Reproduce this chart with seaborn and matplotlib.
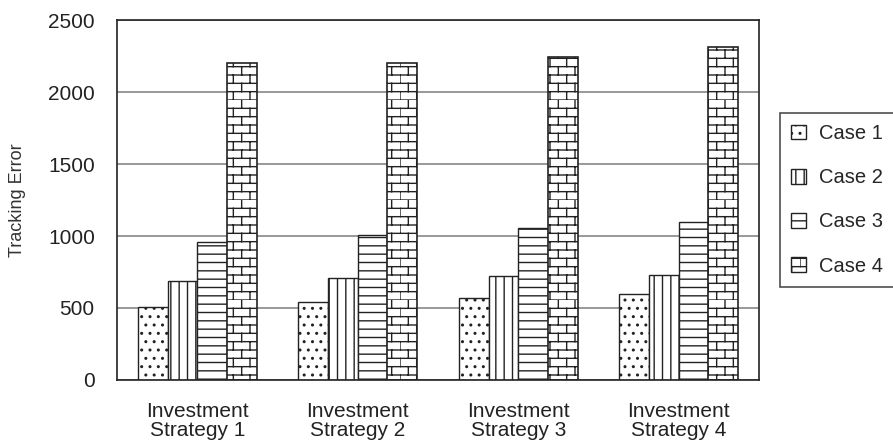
import warnings
import numpy as np
import pandas as pd
import seaborn as sns
import matplotlib.pyplot as plt
from matplotlib import hatch as mhatch
from matplotlib.path import Path
from matplotlib.patches import Patch

warnings.filterwarnings('ignore')

strategies = ['Investment\nStrategy 1', 'Investment\nStrategy 2',
              'Investment\nStrategy 3', 'Investment\nStrategy 4']
cases = ['Case 1', 'Case 2', 'Case 3', 'Case 4']
case1 = [505, 545, 570, 600]
case2 = [690, 705, 720, 730]
case3 = [955, 1010, 1055, 1095]
case4 = [2200, 2200, 2245, 2310]
hatches = ['..', '||', '--', 'b']


class BrickHatch(mhatch.HatchPatternBase):
    # brick wall: horizontal courses with staggered joints
    def __init__(self, hatch, density):
        n = hatch.count('b')
        self.rows = 2 * n * density
        self.cols = n * density
        if n == 0:
            self.num_vertices = 0
        else:
            self.num_vertices = 2 * (self.rows + self.rows * self.cols)

    def set_vertices_and_codes(self, vertices, codes):
        r, c = self.rows, self.cols
        ys = np.arange(r) / r
        vertices[0:2 * r:2, 0] = 0.0
        vertices[0:2 * r:2, 1] = ys
        vertices[1:2 * r:2, 0] = 1.0
        vertices[1:2 * r:2, 1] = ys
        i = 2 * r
        for k in range(r):
            off = 0.5 / c if k % 2 else 0.0
            for j in range(c):
                x = j / c + off
                vertices[i] = (x, k / r)
                vertices[i + 1] = (x, (k + 1) / r)
                i += 2
        codes[0::2] = Path.MOVETO
        codes[1::2] = Path.LINETO


mhatch._hatch_types.append(BrickHatch)

df = pd.DataFrame({
    'strategy': strategies * 4,
    'case': np.repeat(cases, 4),
    'value': case1 + case2 + case3 + case4,
})

sns.set_style('white')
plt.rcParams['font.family'] = ['Liberation Sans', 'DejaVu Sans']
plt.rcParams['hatch.linewidth'] = 1.0

fig = plt.figure(figsize=(8.93, 4.47), dpi=100)
ax = fig.add_axes([0.131, 0.15, 0.719, 0.805])

sns.barplot(data=df, x='strategy', y='value', hue='case', ax=ax,
            width=0.74, gap=0, legend=False, color='white')

for cont, h in zip(ax.containers, hatches):
    for bar in cont:
        bar.set_facecolor('white')
        bar.set_edgecolor('#222222')
        bar.set_linewidth(1.2 if h == 'b' else 1.0)
        bar.set_hatch(h)

ax.set_ylim(0, 2500)
ax.set_yticks(np.arange(0, 2501, 500))
ax.yaxis.grid(True, color='#888888', linewidth=1.2)
ax.set_axisbelow(True)
for s in ax.spines.values():
    s.set_color('#222222')
    s.set_linewidth(1.2)

ax.set_xlabel('')
ax.set_ylabel('Tracking Error', fontsize=13, color='#333333', labelpad=16)
ax.tick_params(axis='both', labelsize=15, colors='#222222', length=0, pad=16)
for lbl in ax.get_xticklabels():
    lbl.set_linespacing(1.0)

handles = [Patch(facecolor='white', edgecolor='#222222', hatch=h, label=c)
           for h, c in zip(hatches, cases)]
leg = ax.legend(handles=handles, loc='upper left',
                bbox_to_anchor=(780 / 893, 1 - 113 / 447),
                bbox_transform=fig.transFigure,
                fontsize=14.5, frameon=True, fancybox=False, labelspacing=1.25,
                handlelength=0.75, handleheight=0.75, handletextpad=0.65,
                borderpad=0.55, borderaxespad=0)
leg.get_frame().set_edgecolor('#222222')
leg.get_frame().set_linewidth(1.2)

plt.savefig('out.png', dpi=100)
